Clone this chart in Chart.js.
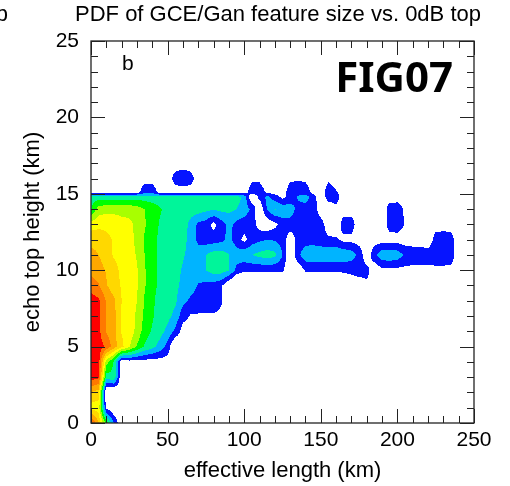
<!DOCTYPE html>
<html>
<head>
<meta charset="utf-8">
<title>PDF of GCE/Gan feature size vs. 0dB top</title>
<script src="https://cdn.jsdelivr.net/npm/chart.js@4.4.1/dist/chart.umd.min.js"></script>
<style>
  html, body { margin: 0; padding: 0; background: #fff; }
  canvas { display: block; }
</style>
</head>
<body>
<canvas id="pdfCanvas" width="510" height="486"></canvas>
<script>
// grid nodes of the PDF field (km)
const lengthNodes = [0, 5, 10, 15, 20, 25, 30, 35, 40, 45, 50, 55, 60, 65, 70, 75, 80, 85, 90, 95,
  100, 105, 110, 115, 120, 125, 130, 135, 140, 145, 150, 155, 160, 165, 170, 175, 180, 185, 190, 195,
  200, 205, 210, 215, 220, 225, 230, 235, 240, 245];
const heightNodes = [0, 1, 2, 3, 4, 5, 6, 7, 8, 9, 10, 11, 12, 13, 14, 14.8, 15.1, 16, 17];

// PDF in contour-level units at each node, one list per height (bottom first);
// missing entries at the end of a list are zero
const pdf00 = [10, 7.5, 4, 1.5, -0.5, 0];
const pdf01 = [6, 6, 0.3, -0.5, 0];
const pdf02 = [7.5, 7, -1, -1, 0];
const pdf03 = [10, 9.7, 3, 3.3, -0.5, 0];
const pdf04 = [10, 10, 5, 3.3, -0.5, 0];
const pdf05 = [10, 10, 9.3, 8, 6.8, 5.6, 4.4, 3.4, 2.8, 2.1, 1.1, -0.8, 0];
const pdf06 = [10, 9.8, 8.4, 7.8, 6.4, 6.1, 5.2, 4, 3.4, 2.9, 2.2, 1.3, 0];
const pdf07 = [10, 9.8, 8.4, 7.8, 6.4, 6.1, 5.3, 4.3, 3.6, 3.1, 2.8, 2.2, 0.9, 0.4, 0.4, 0.4, 0.4, 0.3, 0];
const pdf08 = [10, 9.7, 8.4, 7.7, 6.5, 6.2, 5.5, 4.4, 3.7, 3.1, 3, 2.7, 1.8, 1.3, 1, 1, 1, 0.6, 0];
const pdf09 = [9, 8.6, 7.6, 6.9, 6.4, 6.2, 5.6, 4.6, 3.8, 3.3, 3.1, 2.7, 2.3, 2, 1.4, 1.2, 1.1, 0.7, -0.5, -1.5,
  -1.5, -1.5, -1.5, -1.5, -1.5, -1.5, 0, 0, 0, 0, 0, 0, 0, 0, 0, 0, 0.2, 0.2, 0];
const pdf10 = [8.2, 8, 7.4, 6.8, 6.3, 6.1, 5.6, 4.6, 3.8, 3.3, 3.1, 2.8, 2.4, 2.1, 2.2, 2.5, 3, 3, 2.6, 1.2,
  0.7, 0.7, 0.7, 0.7, 0.7, 0.7, -0.5, -0.3, 0.55, 0.55, 0.55, 0.55, 0.55, 0.6, 0.7, 0.9, 0.9, -0.3, 0.2, 0.2,
  0.2, 0.2, 0.2, 0.2, 0.2, 0.2, 0.2, 0.2, -0.3];
const pdf11 = [7.8, 7.5, 6.9, 6.4, 6.2, 6, 5.4, 4.5, 3.8, 3.3, 3.1, 2.8, 2.6, 2.2, 2.1, 2.5, 3, 3, 2.5, 2,
  2.2, 2.5, 2.8, 3, 2.8, 1.5, -0.5, 1.2, 2.2, 2.4, 2.4, 2.4, 2.4, 2.3, 2, 1.2, -0.3, 1.2, 2.2, 2.3,
  2.1, 1.3, 1.1, 1.1, 1.1, 1.2, 1.2, 1.1, -0.3];
const pdf12 = [7.2, 7.2, 6.8, 6.4, 6.2, 5.9, 5.2, 4.4, 3.8, 3.3, 3, 3, 2.8, 2.2, 1.2, 1, 1, 1.2, 1.8, 1,
  0.2, 1, 1.3, 1.5, 1.4, 1.1, -0.2, 0.8, 1, 1, 0.8, 0.65, 0.65, 0.2, 0.2, 0, 0, 0, 0, 0,
  0, 0, 0, 0, -0.3, 1, 1.1, 1, -0.3];
const pdf13 = [6, 6.2, 6.2, 6.1, 5.8, 5.7, 5.3, 4.6, 4, 3.4, 3.1, 3, 3, 2.2, 1.3, 1, 0.2, 1, 1.8, 1.2,
  1, 1, 0, -0.3, 0.2, 1, 1.1, 1, 1, 1, 0.9, 0, -0.2, 1, 1, -0.2, 0, 0, -0.2, 1,
  1.1, 0.4, 0];
const pdf14 = [3.4, 5, 5.2, 5.2, 5.2, 5.2, 5, 4.5, 4, 3.6, 3.2, 3, 3, 3, 3, 2.8, 2.6, 2.8, 2.8, 2.5,
  2, 1.3, -0.5, 1.6, 2.6, 2.2, 2, 1.2, 1, 1, 0, -0.3, 0.2, 0, 0, 0, 0, 0, -0.2, 1,
  1.1, 0.3, 0];
const pdf148 = [3, 3, 3, 3, 3, 3, 3, 3, 3, 3, 3, 3, 3, 3, 3, 3, 3, 3, 3, 3,
  2.2, -0.5, 0.8, 1.8, 1, 0.2, 0.8, 1.6, 2, 1, -0.2, 1, 1, -0.2];
const pdf151 = [0, 0, 0, 0, 0, 0, 0, 1.2, 1.2, 0, 0, 0, 0, 0, 0, 0, 0, 0, 0, 0,
  0, 1, 1, 0.3, 0, 0, 1, 1.1, 1, 0.2, 0, 1, 0.6, 0];
const pdf16 = [0, 0, 0, 0, 0, 0, 0, 0, 0, 0, 0, 0.9, 1.2, 0.9, 0, 0, 0, 0, 0, 0,
  0, 0.3, 0.3, 0, 0, 0, 0.3, 0.4, 0.3, 0, 0, 0.3, 0];
const pdf17 = [];

const pdfRows = [pdf00, pdf01, pdf02, pdf03, pdf04, pdf05, pdf06, pdf07, pdf08, pdf09,
  pdf10, pdf11, pdf12, pdf13, pdf14, pdf148, pdf151, pdf16, pdf17];

const levelColors = ["#0614ff", "#00b4ff", "#00f59a", "#00ff00", "#a8ff00",
  "#ffff00", "#ffd800", "#ffa800", "#ff7800", "#ff0000"];

const lengthTicks = [0, 50, 100, 150, 200, 250];
const heightTicks = [0, 5, 10, 15, 20, 25];

const FONT = "'Liberation Sans', Arial, sans-serif";

const pdfGrid = pdfRows.map((r) => lengthNodes.map((_, i) => (i < r.length ? r[i] : 0)));

const locate = (nodes, v) => {
  if (v < nodes[0] || v > nodes[nodes.length - 1]) return null;
  let i = 0;
  while (i < nodes.length - 2 && v > nodes[i + 1]) i++;
  return [i, (v - nodes[i]) / (nodes[i + 1] - nodes[i])];
};

const pdfAt = (x, y) => {
  const a = locate(lengthNodes, x);
  const b = locate(heightNodes, y);
  if (!a || !b) return 0;
  const [i, tx] = a;
  const [j, ty] = b;
  const lo = pdfGrid[j][i] * (1 - tx) + pdfGrid[j][i + 1] * tx;
  const hi = pdfGrid[j + 1][i] * (1 - tx) + pdfGrid[j + 1][i + 1] * tx;
  return lo * (1 - ty) + hi * ty;
};

const hexToRgb = (h) => [1, 3, 5].map((k) => parseInt(h.slice(k, k + 2), 16));

// filled contours, one pixel at a time through the chart scales
const contourPlugin = {
  id: "contourFill",
  beforeDatasetsDraw(chart) {
    const { ctx, chartArea, scales } = chart;
    const w = Math.round(chartArea.right - chartArea.left);
    const h = Math.round(chartArea.bottom - chartArea.top);
    const off = document.createElement("canvas");
    off.width = w;
    off.height = h;
    const octx = off.getContext("2d");
    const img = octx.createImageData(w, h);
    const rgb = levelColors.map(hexToRgb);
    for (let py = 0; py < h; py++) {
      const yv = scales.y.getValueForPixel(chartArea.top + py + 0.5);
      for (let px = 0; px < w; px++) {
        const xv = scales.x.getValueForPixel(chartArea.left + px + 0.5);
        const lev = Math.min(10, Math.round(pdfAt(xv, yv)));
        if (lev < 1) continue;
        const c = rgb[lev - 1];
        const k = (py * w + px) * 4;
        img.data[k] = c[0];
        img.data[k + 1] = c[1];
        img.data[k + 2] = c[2];
        img.data[k + 3] = 255;
      }
    }
    octx.putImageData(img, 0, 0);
    ctx.drawImage(off, chartArea.left, chartArea.top);
  }
};

// frame with inward ticks on all four sides, plus the labels
const framePlugin = {
  id: "frame",
  afterDraw(chart) {
    const { ctx, chartArea: a, scales } = chart;
    ctx.save();
    ctx.strokeStyle = "#222";
    ctx.lineWidth = 1.3;
    ctx.strokeRect(a.left, a.top, a.right - a.left, a.bottom - a.top);
    ctx.beginPath();
    for (let v = 0; v <= 250; v += 10) {
      const px = Math.round(scales.x.getPixelForValue(v)) + 0.5;
      const len = v % 50 === 0 ? 14 : 7;
      ctx.moveTo(px, a.bottom);
      ctx.lineTo(px, a.bottom - len);
      ctx.moveTo(px, a.top);
      ctx.lineTo(px, a.top + len);
    }
    for (let v = 0; v <= 25; v += 1) {
      const py = Math.round(scales.y.getPixelForValue(v)) + 0.5;
      const len = v % 5 === 0 ? 14 : 7;
      ctx.moveTo(a.left, py);
      ctx.lineTo(a.left + len, py);
      ctx.moveTo(a.right, py);
      ctx.lineTo(a.right - len, py);
    }
    ctx.lineWidth = 1;
    ctx.stroke();

    ctx.fillStyle = "#000";
    ctx.textBaseline = "alphabetic";
    ctx.font = "22px " + FONT;
    ctx.textAlign = "center";
    ctx.fillText("PDF of GCE/Gan feature size vs. 0dB top", 278, 21);
    ctx.textAlign = "right";
    ctx.fillText("b", 8, 21);
    ctx.font = "21px " + FONT;
    ctx.textAlign = "left";
    ctx.fillText("b", 122, 70);
    ctx.font = "bold 42px 'Noto Sans', 'DejaVu Sans', sans-serif";
    ctx.textAlign = "right";
    ctx.fillText("FIG07", 453, 92);
    ctx.restore();
  }
};

new Chart(document.getElementById("pdfCanvas"), {
  type: "scatter",
  data: { datasets: [] },
  options: {
    responsive: false,
    animation: false,
    devicePixelRatio: 1,
    layout: { padding: { left: 16, right: 36, top: 41, bottom: 0 } },
    plugins: { legend: { display: false }, tooltip: { enabled: false } },
    scales: {
      x: {
        type: "linear",
        min: 0,
        max: 250,
        afterBuildTicks: (s) => { s.ticks = lengthTicks.map((v) => ({ value: v })); },
        afterFit: (s) => { s.height = 63; },
        ticks: { font: { family: FONT, size: 21 }, color: "#000", padding: 5, maxRotation: 0, autoSkip: false },
        grid: { display: false, drawTicks: false },
        border: { display: false },
        title: {
          display: true,
          text: "effective length (km)",
          color: "#000",
          font: { family: FONT, size: 22 },
          padding: { top: 0, bottom: 2 }
        }
      },
      y: {
        type: "linear",
        min: 0,
        max: 25,
        afterBuildTicks: (s) => { s.ticks = heightTicks.map((v) => ({ value: v })); },
        afterFit: (s) => { s.width = 75; },
        ticks: { font: { family: FONT, size: 21 }, color: "#000", padding: 12, autoSkip: false },
        grid: { display: false, drawTicks: false },
        border: { display: false },
        title: {
          display: true,
          text: "echo top height (km)",
          color: "#000",
          font: { family: FONT, size: 22 },
          padding: { top: 4, bottom: 0 }
        }
      }
    }
  },
  plugins: [contourPlugin, framePlugin]
});
</script>
</body>
</html>
